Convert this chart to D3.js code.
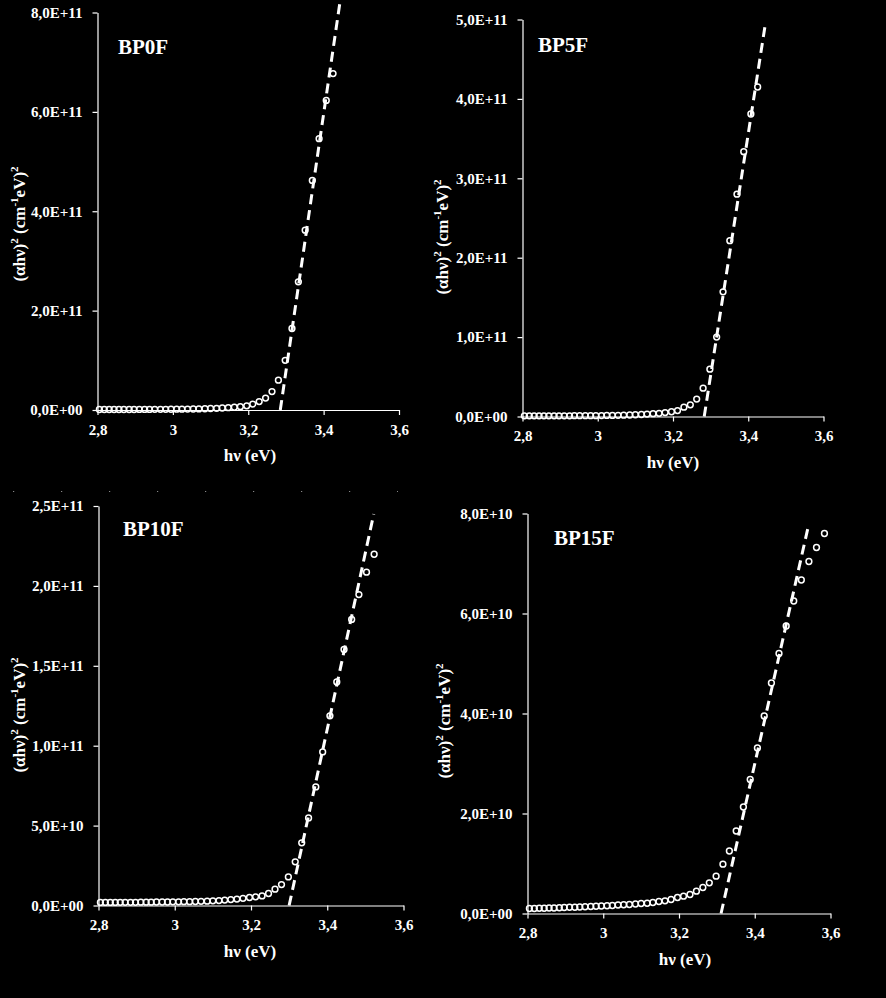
<!DOCTYPE html>
<html>
<head>
<meta charset="utf-8">
<script src="https://cdn.jsdelivr.net/npm/d3@7"></script>
<style>
  html, body { margin: 0; padding: 0; background: #000; }
  svg { display: block; }
  text { font-family: "Liberation Serif", "Times New Roman", serif; font-weight: bold; fill: #fff; }
</style>
</head>
<body>
<svg id="chart" width="886" height="998"></svg>
<script>
// photon energy hν (eV) of the measured points
const hv = [2.805, 2.818, 2.831, 2.844, 2.857, 2.870, 2.884, 2.897, 2.911, 2.925,
            2.938, 2.952, 2.967, 2.981, 2.995, 3.010, 3.024, 3.039, 3.054, 3.069,
            3.085, 3.100, 3.116, 3.131, 3.147, 3.163, 3.179, 3.196, 3.212, 3.229,
            3.246, 3.263, 3.280, 3.298, 3.316, 3.333, 3.351, 3.370, 3.388, 3.407,
            3.425, 3.444, 3.464, 3.483, 3.503, 3.523, 3.543, 3.563, 3.584];

// (αhν)² values, BP0F in 1E+11
const bp0f = [0.010, 0.010, 0.010, 0.010, 0.010, 0.010, 0.010, 0.010, 0.012, 0.012,
              0.012, 0.013, 0.013, 0.014, 0.015, 0.016, 0.017, 0.018, 0.020, 0.022,
              0.025, 0.030, 0.034, 0.040, 0.046, 0.055, 0.066, 0.085, 0.12, 0.17,
              0.24, 0.37, 0.60, 1.00, 1.64, 2.58, 3.62, 4.62, 5.46, 6.23, 6.77];
// BP5F in 1E+11
const bp5f = [0.008, 0.008, 0.008, 0.008, 0.008, 0.008, 0.008, 0.009, 0.009, 0.009,
              0.010, 0.010, 0.010, 0.011, 0.011, 0.012, 0.013, 0.014, 0.015, 0.017,
              0.019, 0.022, 0.025, 0.030, 0.035, 0.040, 0.050, 0.060, 0.075, 0.118,
              0.147, 0.22, 0.357, 0.596, 1.00, 1.57, 2.215, 2.80, 3.335, 3.81, 4.15];
// BP10F in 1E+11
const bp10f = [0.019, 0.019, 0.019, 0.019, 0.020, 0.020, 0.020, 0.020, 0.021, 0.021,
               0.021, 0.022, 0.022, 0.022, 0.023, 0.023, 0.024, 0.024, 0.025, 0.026,
               0.027, 0.029, 0.031, 0.034, 0.037, 0.040, 0.045, 0.050, 0.054, 0.060,
               0.075, 0.102, 0.131, 0.179, 0.273, 0.392, 0.548, 0.742, 0.961, 1.187,
               1.399, 1.602, 1.790, 1.946, 2.086, 2.198];
// BP15F in 1E+10
const bp15f = [1.00, 1.00, 1.05, 1.05, 1.10, 1.10, 1.15, 1.20, 1.25, 1.25,
               1.30, 1.35, 1.40, 1.45, 1.50, 1.55, 1.60, 1.70, 1.75, 1.80,
               1.90, 2.00, 2.05, 2.20, 2.40, 2.53, 2.80, 3.20, 3.46, 3.80,
               4.47, 5.20, 6.13, 7.46, 9.86, 12.5, 16.5, 21.3, 26.8, 33.1,
               39.5, 46.1, 52.0, 57.5, 62.5, 66.7, 70.4, 73.2, 76.0];

// linear (Tauc) extrapolation lines: [hν, value] (same units as the panel data)
const fit0 = [[3.285, 0], [3.444, 8.24]];
const fit5 = [[3.283, 0], [3.445, 4.93]];
const fit10 = [[3.300, 0], [3.522, 2.45]];
const fit15 = [[3.311, 0], [3.541, 77.3]];

const titles = ["BP0F", "BP5F", "BP10F", "BP15F"];

const xTicks = [2.8, 3.0, 3.2, 3.4, 3.6];
const xTickLabels = ["2,8", "3", "3,2", "3,4", "3,6"];

const yTicks0 = [0, 2, 4, 6, 8];
const yLabels0 = ["0,0E+00", "2,0E+11", "4,0E+11", "6,0E+11", "8,0E+11"];
const yTicks5 = [0, 1, 2, 3, 4, 5];
const yLabels5 = ["0,0E+00", "1,0E+11", "2,0E+11", "3,0E+11", "4,0E+11", "5,0E+11"];
const yTicks10 = [0, 0.5, 1.0, 1.5, 2.0, 2.5];
const yLabels10 = ["0,0E+00", "5,0E+10", "1,0E+11", "1,5E+11", "2,0E+11", "2,5E+11"];
const yTicks15 = [0, 20, 40, 60, 80];
const yLabels15 = ["0,0E+00", "2,0E+10", "4,0E+10", "6,0E+10", "8,0E+10"];

// layout (pixel geometry of each panel)
const panels = [
  { title: titles[0], y: bp0f, fit: fit0, yTicks: yTicks0, yLabels: yLabels0,
    left: 97.5, right: 399, top: 12.5, bottom: 410,
    titleX: 118, titleY: 54, yTitleX: 19, yTitleY: 224, xTitleX: 250 },
  { title: titles[1], y: bp5f, fit: fit5, yTicks: yTicks5, yLabels: yLabels5,
    left: 522.5, right: 823.5, top: 19.5, bottom: 416.5,
    titleX: 538, titleY: 52, yTitleX: 442, yTitleY: 237, xTitleX: 673 },
  { title: titles[2], y: bp10f, fit: fit10, yTicks: yTicks10, yLabels: yLabels10,
    left: 98.5, right: 403.5, top: 506, bottom: 905.5,
    titleX: 123, titleY: 536, yTitleX: 19, yTitleY: 715, xTitleX: 250 },
  { title: titles[3], y: bp15f, fit: fit15, yTicks: yTicks15, yLabels: yLabels15,
    left: 527.5, right: 830.5, top: 513.5, bottom: 913.5,
    titleX: 554, titleY: 545, yTitleX: 444, yTitleY: 721, xTitleX: 685 }
];

const svg = d3.select("#chart");
svg.append("rect").attr("width", 886).attr("height", 998).attr("fill", "#000");

// faint dotted separator artefact
svg.append("line")
  .attr("x1", 13).attr("x2", 398).attr("y1", 491.5).attr("y2", 491.5)
  .attr("stroke", "#888").attr("stroke-width", 1.2)
  .attr("stroke-dasharray", "1.2,46.8");

panels.forEach(p => {
  const yMax = p.yTicks[p.yTicks.length - 1];
  const x = d3.scaleLinear().domain([2.8, 3.6]).range([p.left, p.right]);
  const y = d3.scaleLinear().domain([0, yMax]).range([p.bottom, p.top]);
  const g = svg.append("g");

  // x axis
  const xAxis = d3.axisBottom(x).tickValues(xTicks)
    .tickFormat((d, i) => xTickLabels[i]).tickSize(5).tickSizeOuter(0).tickPadding(9);
  const gx = g.append("g").attr("transform", `translate(0,${p.bottom})`).call(xAxis);
  gx.select(".domain").attr("stroke", "#fff").attr("stroke-width", 1.2);
  gx.selectAll(".tick line").attr("stroke", "#fff").attr("stroke-width", 1.2);
  gx.selectAll(".tick text").attr("fill", "#fff")
    .style("font-family", '"Liberation Serif", serif').style("font-weight", "bold")
    .style("font-size", "15px");

  // y axis
  const yAxis = d3.axisLeft(y).tickValues(p.yTicks)
    .tickFormat((d, i) => p.yLabels[i]).tickSize(5).tickSizeOuter(0).tickPadding(10);
  const gy = g.append("g").attr("transform", `translate(${p.left},0)`).call(yAxis);
  gy.select(".domain").attr("stroke", "#fff").attr("stroke-width", 1.2);
  gy.selectAll(".tick line").attr("stroke", "#fff").attr("stroke-width", 1.2);
  gy.selectAll(".tick text").attr("fill", "#fff")
    .style("font-family", '"Liberation Serif", serif').style("font-weight", "bold")
    .style("font-size", "15px");

  // data points
  const pts = p.y.map((v, i) => [hv[i], v]);
  g.append("g").selectAll("circle").data(pts).join("circle")
    .attr("cx", d => x(d[0])).attr("cy", d => y(d[1]))
    .attr("r", 2.9).attr("fill", "none")
    .attr("stroke", "#fff").attr("stroke-width", 1.5);

  // extrapolation line
  g.append("path")
    .attr("d", d3.line().x(d => x(d[0])).y(d => y(d[1]))(p.fit))
    .attr("fill", "none").attr("stroke", "#fff").attr("stroke-width", 3)
    .attr("stroke-dasharray", "10,6");

  // sample label
  g.append("text").attr("x", p.titleX).attr("y", p.titleY)
    .style("font-size", "21px").text(p.title);

  // x title
  g.append("text").attr("x", p.xTitleX).attr("y", p.bottom + 51)
    .attr("text-anchor", "middle").style("font-size", "17px").text("hν (eV)");

  // y title
  const yt = g.append("text")
    .attr("transform", `translate(${p.yTitleX + 6},${p.yTitleY}) rotate(-90)`)
    .attr("text-anchor", "middle").style("font-size", "17px");
  yt.append("tspan").text("(αhν)");
  yt.append("tspan").attr("dy", -7).style("font-size", "11px").text("2");
  yt.append("tspan").attr("dy", 7).text(" (cm");
  yt.append("tspan").attr("dy", -7).style("font-size", "11px").text("-1");
  yt.append("tspan").attr("dy", 7).text("eV)");
  yt.append("tspan").attr("dy", -7).style("font-size", "11px").text("2");
});
</script>
</body>
</html>
